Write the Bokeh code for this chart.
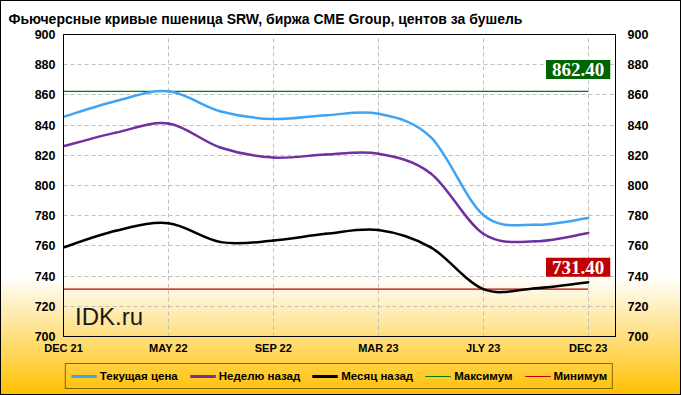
from bokeh.plotting import figure
from bokeh.layouts import column
from bokeh.models import (Range1d, LinearAxis, FixedTicker, Legend, LegendItem,
                          Label, ColumnDataSource)
from bokeh.embed import file_html
from bokeh.resources import INLINE

# ---- data -------------------------------------------------------------
contracts = ["DEC 21", "MAR 22", "MAY 22", "JLY 22", "SEP 22", "DEC 22",
             "MAR 23", "MAY 23", "JLY 23", "SEP 23", "DEC 23"]
current = [845.5, 856.0, 862.4, 849.0, 844.0, 846.5, 847.5, 832.0, 780.5, 774.0, 778.5]
week_ago = [826.0, 835.0, 841.0, 825.0, 818.5, 820.5, 821.0, 808.0, 768.0, 763.0, 768.5]
month_ago = [759.0, 770.0, 775.0, 762.5, 763.5, 768.0, 770.5, 759.0, 731.4, 732.0, 736.0]
label_ticks = [0, 2, 4, 6, 8, 10]
y_ticks = [700, 720, 740, 760, 780, 800, 820, 840, 860, 880, 900]
series_names = ["Текущая цена", "Неделю назад", "Месяц назад", "Максимум", "Минимум"]
title_text = "Фьючерсные кривые пшеница SRW, биржа CME Group, центов за бушель"

# ---- helpers ----------------------------------------------------------
def smooth_segments(vals):
    n = len(vals)
    pts = list(zip(range(n), vals))
    d = dict(x0=[], y0=[], x1=[], y1=[], cx0=[], cy0=[], cx1=[], cy1=[])
    for i in range(n - 1):
        p0 = pts[max(i - 1, 0)]
        p1 = pts[i]
        p2 = pts[i + 1]
        p3 = pts[min(i + 2, n - 1)]
        d["x0"].append(p1[0]); d["y0"].append(p1[1])
        d["x1"].append(p2[0]); d["y1"].append(p2[1])
        d["cx0"].append(p1[0] + (p2[0] - p0[0]) / 6.0)
        d["cy0"].append(p1[1] + (p2[1] - p0[1]) / 6.0)
        d["cx1"].append(p2[0] - (p3[0] - p1[0]) / 6.0)
        d["cy1"].append(p2[1] - (p3[1] - p1[1]) / 6.0)
    return ColumnDataSource(d)

n = len(contracts)
xs = list(range(n))
all_vals = current + week_ago + month_ago
vmax = max(all_vals)
vmin = min(all_vals)

FONT = "Liberation Sans"
C_CUR, C_WEEK, C_MONTH, C_MAX, C_MIN = "#3fa4f4", "#7030a0", "black", "#008000", "#c00000"

p = figure(width=681, height=356, output_backend="svg", toolbar_location=None,
           x_range=Range1d(0, 10.52), y_range=Range1d(700, 900),
           min_border_left=63, min_border_right=66, min_border_top=32,
           min_border_bottom=18,
           background_fill_color=None, border_fill_color=None,
           outline_line_color="black", outline_line_width=1)

# title
p.title.text = title_text
p.title.align = "left"
p.title.offset = -55
p.title.standoff = 16
p.title.text_font = FONT
p.title.text_font_size = "14px"
p.title.text_font_style = "bold"
p.title.text_color = "black"

# axes
for ax in p.yaxis:
    ax.ticker = FixedTicker(ticks=y_ticks)
right_axis = LinearAxis(ticker=FixedTicker(ticks=y_ticks))
p.add_layout(right_axis, "right")

p.xaxis.ticker = FixedTicker(ticks=label_ticks)
p.xaxis.major_label_overrides = {i: contracts[i] for i in label_ticks}

for ax in list(p.xaxis) + list(p.yaxis) + [right_axis]:
    ax.major_tick_line_color = None
    ax.minor_tick_line_color = None
    ax.major_tick_out = 0
    ax.major_tick_in = 0
    ax.minor_tick_out = 0
    ax.axis_line_color = "black"
    ax.major_label_text_font = FONT
    ax.major_label_text_font_style = "bold"
    ax.major_label_text_color = "black"
for ax in list(p.yaxis) + [right_axis]:
    ax.major_label_text_font_size = "12.5px"
p.yaxis.major_label_standoff = 8
right_axis.major_label_standoff = 12
p.xaxis.major_label_text_font_size = "11px"
p.xaxis.major_label_standoff = 5

# grid
p.xgrid.ticker = FixedTicker(ticks=label_ticks)
p.ygrid.ticker = FixedTicker(ticks=y_ticks)
for g in (p.xgrid, p.ygrid):
    g.grid_line_color = "#c0c0c0"
    g.grid_line_dash = "4 3"
    g.grid_line_width = 1

# max / min lines
p.line(x=[0, n - 1], y=[vmax, vmax], line_color=C_MAX, line_width=1.2)
p.line(x=[0, n - 1], y=[vmin, vmin], line_color=C_MIN, line_width=1.2)

# curves
for vals, col in ((month_ago, C_MONTH), (week_ago, C_WEEK), (current, C_CUR)):
    p.bezier(x0="x0", y0="y0", x1="x1", y1="y1", cx0="cx0", cy0="cy0",
             cx1="cx1", cy1="cy1", source=smooth_segments(vals),
             line_color=col, line_width=2.5, line_cap="round")

# value labels
for val, col in ((vmax, "#006400"), (vmin, "#c00000")):
    p.add_layout(Label(x=n - 1 + 0.42, y=val + 14.5, text=f"{val:.2f}",
                       text_align="right", text_baseline="middle",
                       text_color="white", text_font="Liberation Serif",
                       text_font_style="bold", text_font_size="19px",
                       background_fill_color=col,
                       padding=dict(left=6, right=6, top=3, bottom=3)))

# watermark
p.add_layout(Label(x=0.22, y=713.5, text="IDK.ru", text_font=FONT,
                   text_font_size="24px", text_color="#1a1a1a",
                   text_baseline="alphabetic"))

# ---- legend strip (its frame is aligned with the main plot frame) -----
q = figure(width=681, height=39, output_backend="svg", toolbar_location=None,
           x_range=Range1d(0, 1), y_range=Range1d(0, 1),
           x_axis_type=None, y_axis_type=None, min_border=0,
           background_fill_color=None, border_fill_color=None,
           outline_line_color=None)
q.xgrid.visible = False
q.ygrid.visible = False
legend_series = [current, week_ago, month_ago, [vmax] * n, [vmin] * n]
widths = [3, 3, 3, 1.2, 1.2]
colors = [C_CUR, C_WEEK, C_MONTH, C_MAX, C_MIN]
items = []
for name, vals, col, w in zip(series_names, legend_series, colors, widths):
    # the series lie far outside this strip's range, only the legend glyph shows
    r = q.line(x=xs, y=vals, line_color=col, line_width=w)
    items.append(LegendItem(label=name, renderers=[r]))

legend = Legend(items=items, orientation="horizontal", location="center",
                border_line_color="black", border_line_width=1,
                background_fill_alpha=0, label_text_font=FONT,
                label_text_font_size="11.5px", label_text_font_style="bold",
                label_text_color="black",
                glyph_width=26, glyph_height=14, label_height=14, label_standoff=3,
                spacing=12, padding=5, margin=0)
q.add_layout(legend, "center")

layout = column(p, q, spacing=0)
layout.styles = {"background": "linear-gradient(to bottom, #ffffff 0%, #ffffff 70%, #ffc000 100%)",
                 "outline": "1px solid black", "outline-offset": "-1px"}

open("out.html", "w").write(file_html(layout, INLINE))
